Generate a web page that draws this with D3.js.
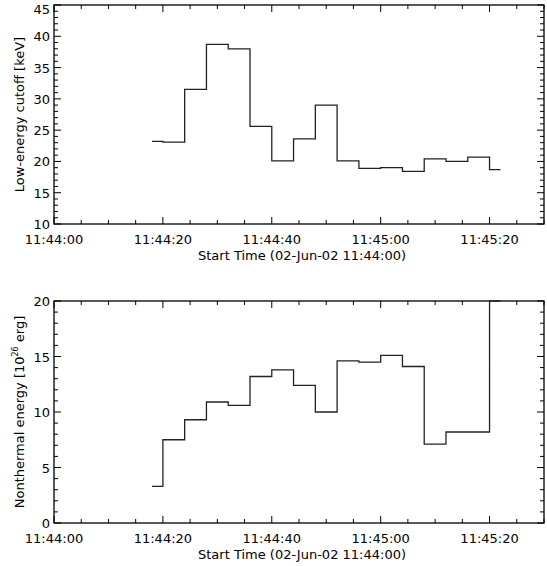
<!DOCTYPE html>
<head>
<meta charset="utf-8">
<style>
html, body { margin:0; padding:0; background:#fff; }
svg { display:block; font-family: 'DejaVu Sans', sans-serif; }
</style>
</head>
<body>
<svg id="stage" width="547" height="566"></svg>
<script src="https://d3js.org/d3.v7.min.js"></script>
<script>
// bin edges, seconds after 11:44:00
var edges = [18, 20, 24, 28, 32, 36, 40, 44, 48, 52, 56, 60, 64, 68, 72, 76, 80, 82];
var cutoff = [23.2, 23.1, 31.5, 38.7, 38.0, 25.6, 20.1, 23.6, 29.0, 20.1, 18.9, 19.0, 18.4, 20.4, 20.0, 20.7, 18.7];
var energy = [3.3, 7.5, 9.3, 10.9, 10.6, 13.2, 13.8, 12.4, 10.0, 14.6, 14.5, 15.1, 14.1, 7.1, 8.2, 8.2, 20.0];
var xTicks = [0, 20, 40, 60, 80];
var xLabels = ["11:44:00", "11:44:20", "11:44:40", "11:45:00", "11:45:20"];

var svg = d3.select("#stage");
var x = d3.scaleLinear().domain([0, 90]).range([54, 544]);

function panel(top, bottom, ydom, vals, ylab) {
  var y = d3.scaleLinear().domain(ydom).range([bottom, top]);
  var g = svg.append("g");
  var minorY = d3.range(ydom[0], ydom[1] + 0.1, 1);
  var majorY = d3.range(ydom[0], ydom[1] + 0.1, 5);
  var minorX = d3.range(0, 91, 5);

  // ticks on all four sides
  function tk(x1, y1, x2, y2) {
    g.append("line").attr("x1", x1).attr("y1", y1).attr("x2", x2).attr("y2", y2)
      .attr("stroke", "#000").attr("stroke-width", 1);
  }
  minorY.forEach(function(v) {
    var len = majorY.indexOf(v) >= 0 ? 7 : 4;
    tk(54, y(v), 54 + len, y(v)); tk(544, y(v), 544 - len, y(v));
  });
  minorX.forEach(function(v) {
    var len = xTicks.indexOf(v) >= 0 ? 7 : 4;
    tk(x(v), bottom, x(v), bottom - len); tk(x(v), top, x(v), top + len);
  });

  g.append("rect").attr("x", 54).attr("y", top).attr("width", 490).attr("height", bottom - top)
    .attr("fill", "none").attr("stroke", "#000").attr("stroke-width", 1.3);

  majorY.forEach(function(v) {
    g.append("text").attr("x", 50).attr("y", Math.max(y(v) + 5, 14)).attr("text-anchor", "end")
      .attr("font-size", 13).text(v);
  });
  xTicks.forEach(function(v, i) {
    g.append("text").attr("x", x(v)).attr("y", bottom + 20).attr("text-anchor", "middle")
      .attr("font-size", 13).text(xLabels[i]);
  });
  g.append("text").attr("x", 302).attr("y", bottom + 36).attr("text-anchor", "middle")
    .attr("font-size", 13).text("Start Time (02-Jun-02 11:44:00)");

  var pts = [];
  vals.forEach(function(v, i) { pts.push([edges[i], v]); pts.push([edges[i + 1], v]); });
  var line = d3.line().x(function(d) { return x(d[0]); }).y(function(d) { return y(d[1]); });
  g.append("path").attr("d", line(pts)).attr("fill", "none")
    .attr("stroke", "#222").attr("stroke-width", 1.3);

  var t = g.append("text").attr("transform", "translate(24," + ((top + bottom) / 2) + ") rotate(-90)")
    .attr("text-anchor", "middle").attr("font-size", 13);
  ylab(t);
}

panel(5, 224, [10, 45], cutoff, function(t) { t.text("Low-energy cutoff [keV]"); });
panel(301, 523, [0, 20], energy, function(t) {
  t.append("tspan").text("Nonthermal energy [10");
  t.append("tspan").attr("font-size", 8).attr("dy", -6).text("26");
  t.append("tspan").attr("dy", 6).text(" erg]");
});
</script>
</body>
